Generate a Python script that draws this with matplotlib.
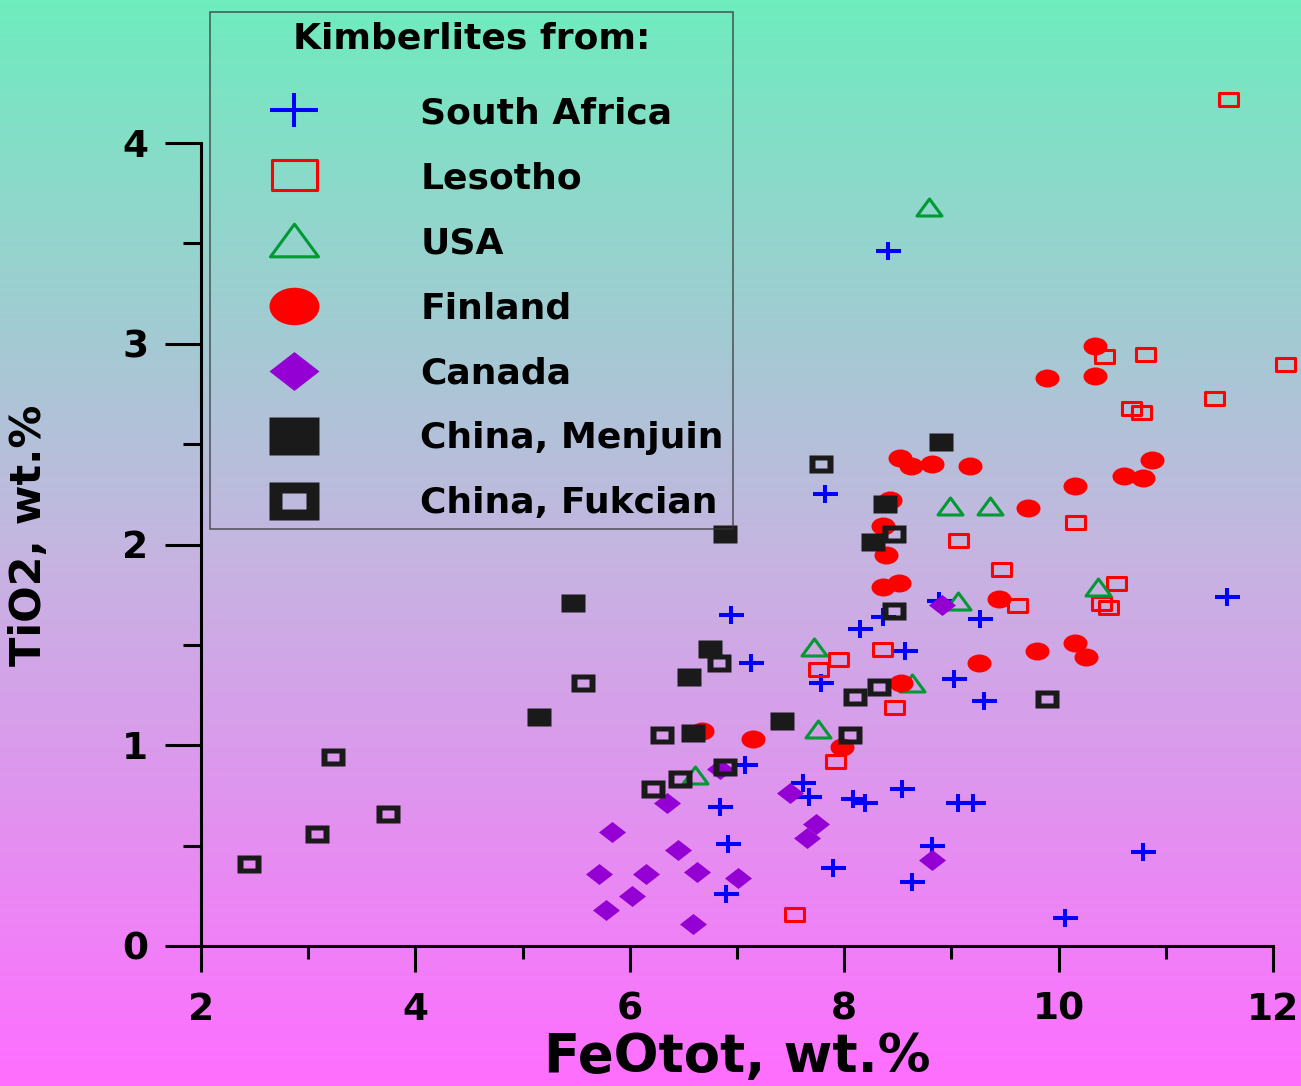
import numpy as np
import matplotlib
matplotlib.use("Agg")
import matplotlib.pyplot as plt
from matplotlib.path import Path
from matplotlib.colors import LinearSegmentedColormap

plt.rcParams['font.family'] = ['DejaVu Sans']
plt.rcParams['font.weight'] = 'bold'

# FeOtot / TiO2 values, wt.%
sa_x = [8.41, 7.82, 6.94, 7.13, 7.78, 8.15, 8.36, 8.57, 8.88, 9.27, 9.02, 9.30, 11.57, 7.07, 6.84,
        7.62, 7.67, 8.08, 8.19, 8.54, 9.06, 9.20, 6.92, 7.90, 8.82, 8.63, 6.90, 10.06, 10.79]
sa_y = [3.46, 2.25, 1.65, 1.41, 1.31, 1.58, 1.64, 1.47, 1.72, 1.63, 1.33, 1.22, 1.74, 0.90, 0.69,
        0.81, 0.74, 0.73, 0.71, 0.78, 0.71, 0.71, 0.51, 0.39, 0.50, 0.32, 0.26, 0.14, 0.47]

les_x = [11.58, 12.11, 11.45, 10.42, 10.81, 10.68, 10.77, 10.15, 9.06, 9.46, 10.54, 9.61, 10.40, 10.46,
         8.35, 8.46, 7.94, 7.76, 7.91, 7.53]
les_y = [4.22, 2.90, 2.73, 2.94, 2.95, 2.68, 2.66, 2.11, 2.02, 1.88, 1.81, 1.70, 1.71, 1.69,
         1.48, 1.19, 1.43, 1.38, 0.92, 0.16]

usa_x = [8.79, 8.99, 9.36, 10.37, 9.06, 7.72, 7.76, 8.63, 6.61]
usa_y = [3.68, 2.19, 2.19, 1.79, 1.72, 1.49, 1.08, 1.31, 0.85]

fin_x = [10.34, 9.89, 10.34, 10.61, 10.79, 10.87, 10.15, 9.71, 9.17, 8.82, 8.62, 8.52, 8.43, 8.36,
         8.39, 8.36, 8.51, 9.44, 9.80, 9.26, 8.53, 7.98, 10.15, 10.26, 6.67, 7.15]
fin_y = [2.99, 2.83, 2.84, 2.34, 2.33, 2.42, 2.29, 2.18, 2.39, 2.40, 2.39, 2.43, 2.22, 2.09,
         1.95, 1.79, 1.81, 1.73, 1.47, 1.41, 1.31, 0.99, 1.51, 1.44, 1.07, 1.03]

can_x = [8.91, 6.84, 6.35, 7.49, 7.74, 7.65, 5.83, 6.45, 5.71, 6.15, 6.63, 7.01, 6.02, 5.78, 6.59, 8.82]
can_y = [1.70, 0.88, 0.71, 0.76, 0.61, 0.54, 0.57, 0.48, 0.36, 0.36, 0.37, 0.34, 0.25, 0.18, 0.11, 0.43]

men_x = [8.90, 8.38, 8.27, 6.89, 5.47, 6.75, 6.55, 7.42, 6.59, 5.15]
men_y = [2.51, 2.20, 2.01, 2.05, 1.71, 1.48, 1.34, 1.12, 1.06, 1.14]

fuk_x = [7.78, 8.46, 8.46, 6.83, 5.56, 6.30, 8.32, 8.10, 8.05, 9.89, 6.89, 6.47, 6.22, 3.74, 3.08, 3.23, 2.45]
fuk_y = [2.40, 2.05, 1.67, 1.41, 1.31, 1.05, 1.29, 1.24, 1.05, 1.23, 0.89, 0.83, 0.78, 0.66, 0.56, 0.94, 0.41]

labels = ["South Africa", "Lesotho", "USA", "Finland", "Canada", "China, Menjuin", "China, Fukcian"]

# markers are a bit wider than tall in the original
def rect(w, h):
    return Path([(-w, -h), (w, -h), (w, h), (-w, h), (-w, -h)],
                [Path.MOVETO, Path.LINETO, Path.LINETO, Path.LINETO, Path.CLOSEPOLY])

plus_m = Path([(-12.5, 0), (12.5, 0), (0, -9), (0, 9)],
              [Path.MOVETO, Path.LINETO, Path.MOVETO, Path.LINETO])
square_m = rect(9.5, 6.5)
tri_m = Path([(0, 8.5), (-12.5, -8.5), (12.5, -8.5), (0, 8.5)],
             [Path.MOVETO, Path.LINETO, Path.LINETO, Path.CLOSEPOLY])
circ = Path.unit_circle()
ell_m = Path(circ.vertices * [12, 9], circ.codes)
dia_m = Path([(0, 10.5), (13.5, 0), (0, -10.5), (-13.5, 0), (0, 10.5)],
             [Path.MOVETO, Path.LINETO, Path.LINETO, Path.LINETO, Path.CLOSEPOLY])
full_m = rect(12, 9)
outer = [(-12, -9), (12, -9), (12, 9), (-12, 9), (-12, -9)]
inner = [(-6, -3.8), (-6, 3.8), (6, 3.8), (6, -3.8), (-6, -3.8)]
cc = [Path.MOVETO, Path.LINETO, Path.LINETO, Path.LINETO, Path.CLOSEPOLY]
hollow_m = Path(outer + inner, cc + cc)

fig = plt.figure(figsize=(13.01, 10.86), dpi=100)

# background gradient
bg = fig.add_axes([0, 0, 1, 1])
grad = np.linspace(0, 1, 256).reshape(-1, 1)
cmap = LinearSegmentedColormap.from_list("bg", ["#6EECBE", "#C4B6E0", "#FF6EFF"])
bg.imshow(grad, aspect="auto", cmap=cmap, extent=[0, 1, 0, 1])
bg.axis("off")

ax = fig.add_axes([201 / 1301, 140 / 1086, 1072 / 1301, 803 / 1086])
ax.patch.set_alpha(0)

px = 0.72  # points per pixel
ax.plot(sa_x, sa_y, ls="none", marker=plus_m, ms=25 * px, mec="#0000FF", mew=2.9, label=labels[0], clip_on=False)
ax.plot(les_x, les_y, ls="none", marker=square_m, ms=19 * px, mfc="none", mec="#FF0000", mew=2.2, label=labels[1], clip_on=False)
ax.plot(usa_x, usa_y, ls="none", marker=tri_m, ms=25 * px, mfc="none", mec="#009933", mew=2.2, label=labels[2], clip_on=False)
ax.plot(fin_x, fin_y, ls="none", marker=ell_m, ms=24 * px, mfc="#FF0000", mec="none", label=labels[3], clip_on=False)
ax.plot(can_x, can_y, ls="none", marker=dia_m, ms=27 * px, mfc="#9400D3", mec="none", label=labels[4], clip_on=False)
ax.plot(men_x, men_y, ls="none", marker=full_m, ms=24 * px, mfc="#1A1A1A", mec="none", label=labels[5], clip_on=False)
ax.plot(fuk_x, fuk_y, ls="none", marker=hollow_m, ms=24 * px, mfc="#1A1A1A", mec="none", label=labels[6], clip_on=False)

ax.set_xlim(2, 12)
ax.set_ylim(0, 4)
for s in ["top", "right"]:
    ax.spines[s].set_visible(False)
for s in ["left", "bottom"]:
    ax.spines[s].set_linewidth(2.2)

ax.set_xticks(range(2, 13, 2))
ax.set_xticks(range(3, 12, 2), minor=True)
ax.set_yticks(range(0, 5))
ax.set_yticks(np.arange(0.5, 4, 1), minor=True)
ax.tick_params(axis="y", which="major", length=26, width=2.2, pad=12, labelsize=27)
ax.tick_params(axis="y", which="minor", length=13, width=2.2)
ax.tick_params(axis="x", which="major", length=19, width=2.2, pad=14, labelsize=27)
ax.tick_params(axis="x", which="minor", length=9.5, width=2.2)

ax.set_xlabel("FeOtot, wt.%", fontsize=38, fontweight="bold", va="center")
ax.xaxis.set_label_coords(0.5, -0.138)
ax.set_ylabel("TiO2, wt.%", fontsize=31, fontweight="bold", va="center")
ax.yaxis.set_label_coords(-0.160, 0.512)

leg = ax.legend(loc="upper left", bbox_to_anchor=(210 / 1301, 1 - 12 / 1086), bbox_transform=fig.transFigure,
                borderaxespad=0, borderpad=0.25, handlelength=4.14, handletextpad=1.43, labelspacing=0.86,
                markerscale=2, fontsize=26, title="Kimberlites from:", title_fontsize=26,
                fancybox=False, numpoints=1)
frame = leg.get_frame()
frame.set_facecolor("none")
frame.set_edgecolor("#333333")
frame.set_linewidth(1.1)
leg.get_title().set_fontweight("bold")
leg._legend_box.sep = 29.5

# legend symbols are all about 48-50 px wide
for h, w in zip(leg.legend_handles, [48, 45, 48, 50, 50, 50, 50]):
    h.set_markersize(w * px)

fig.savefig("out.png", dpi=100)
